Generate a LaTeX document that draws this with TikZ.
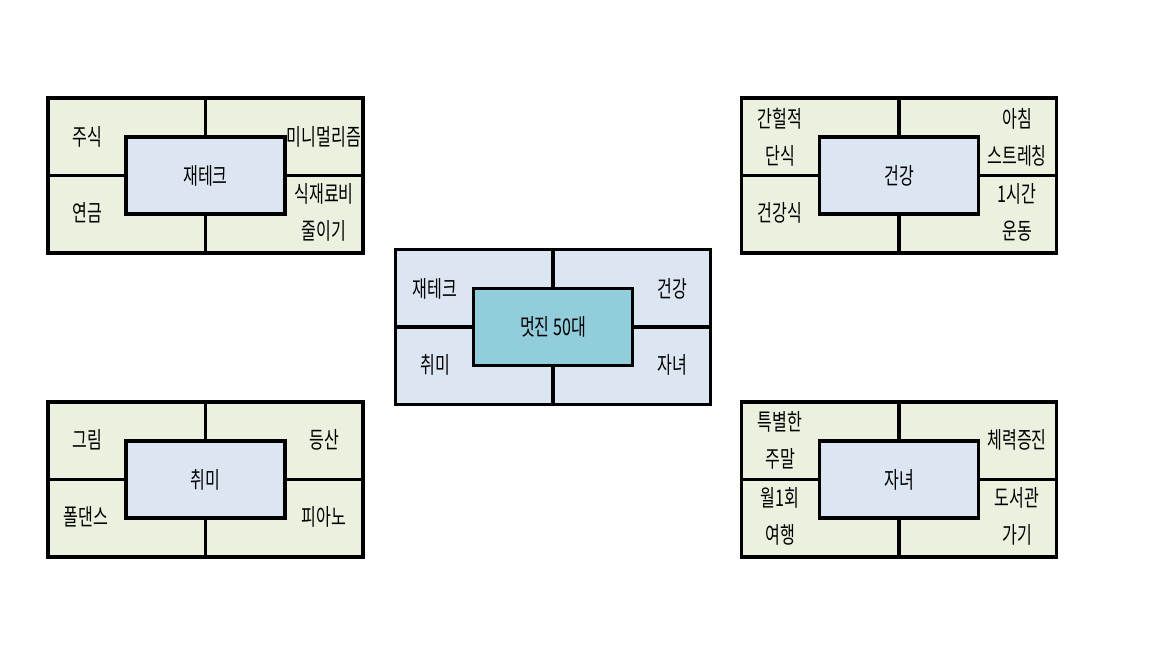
\documentclass[tikz,border=0pt]{standalone}
\usepackage{fontspec}
\newfontfamily\krfont[FakeStretch=0.7]{Noto Sans CJK KR}
\usetikzlibrary{positioning}
\definecolor{CellGreen}{RGB}{235,241,222}
\definecolor{CellBlue}{RGB}{220,230,242}
\definecolor{HubAqua}{RGB}{146,205,220}
\tikzset{
  greencell/.style={draw=black,line width=1.8pt,fill=CellGreen,minimum width=78.75pt,minimum height=38.75pt,inner sep=0pt,outer sep=0pt},
  bluecell/.style={draw=black,line width=1.8pt,fill=CellBlue,minimum width=78.75pt,minimum height=38.75pt,inner sep=0pt,outer sep=0pt},
  hub/.style={draw=black,line width=1.8pt,fill=CellBlue,minimum width=79.5pt,minimum height=38.5pt,inner sep=0pt,outer sep=0pt,font=\krfont\fontsize{11.5}{18.5}\selectfont},
  mainhub/.style={hub,fill=HubAqua},
  lbl/.style={align=center,inner sep=0pt,font=\krfont\fontsize{11.5}{18.5}\selectfont}
}
\begin{document}
\begin{tikzpicture}[x=0.5pt,y=-0.5pt]
\useasboundingbox (0,0) rectangle (1152,648);
\coordinate (jt) at (205.5,175.5);
\coordinate (md) at (553,327);
\coordinate (gk) at (899,175.5);
\coordinate (cm) at (205.5,479.5);
\coordinate (jn) at (899,479.5);
% 재테크
\node[greencell,anchor=south east] (jt-nw) at (jt) {};
\node[greencell,anchor=south west] (jt-ne) at (jt) {};
\node[greencell,anchor=north east] (jt-sw) at (jt) {};
\node[greencell,anchor=north west] (jt-se) at (jt) {};
\node[hub] (jt-hub) at (jt) {재테크};
\node[lbl] (jt-a) at (87,137) {주식};
\node[lbl] (jt-b) at (324,137) {미니멀리즘};
\node[lbl] (jt-c) at (87,213) {연금};
\node[lbl] (jt-d) at (324,212) {식재료비\\줄이기};
% 멋진 50대
\node[bluecell,anchor=south east] (md-nw) at (md) {};
\node[bluecell,anchor=south west] (md-ne) at (md) {};
\node[bluecell,anchor=north east] (md-sw) at (md) {};
\node[bluecell,anchor=north west] (md-se) at (md) {};
\node[mainhub] (md-hub) at (md) {멋진 50대};
\node[lbl] (md-a) at (435,289) {재테크};
\node[lbl] (md-b) at (672,289) {건강};
\node[lbl] (md-c) at (435,365) {취미};
\node[lbl] (md-d) at (672,365) {자녀};
% 건강
\node[greencell,anchor=south east] (gk-nw) at (gk) {};
\node[greencell,anchor=south west] (gk-ne) at (gk) {};
\node[greencell,anchor=north east] (gk-sw) at (gk) {};
\node[greencell,anchor=north west] (gk-se) at (gk) {};
\node[hub] (gk-hub) at (gk) {건강};
\node[lbl] (gk-a) at (780,137) {간헐적\\단식};
\node[lbl] (gk-b) at (1017,137) {아침\\스트레칭};
\node[lbl] (gk-c) at (780,213) {건강식};
\node[lbl] (gk-d) at (1017,212) {1시간\\운동};
% 취미
\node[greencell,anchor=south east] (cm-nw) at (cm) {};
\node[greencell,anchor=south west] (cm-ne) at (cm) {};
\node[greencell,anchor=north east] (cm-sw) at (cm) {};
\node[greencell,anchor=north west] (cm-se) at (cm) {};
\node[hub] (cm-hub) at (cm) {취미};
\node[lbl] (cm-a) at (87,440) {그림};
\node[lbl] (cm-b) at (324,440) {등산};
\node[lbl] (cm-c) at (86,517) {폴댄스};
\node[lbl] (cm-d) at (324,517) {피아노};
% 자녀
\node[greencell,anchor=south east] (jn-nw) at (jn) {};
\node[greencell,anchor=south west] (jn-ne) at (jn) {};
\node[greencell,anchor=north east] (jn-sw) at (jn) {};
\node[greencell,anchor=north west] (jn-se) at (jn) {};
\node[hub] (jn-hub) at (jn) {자녀};
\node[lbl] (jn-a) at (780,440) {특별한\\주말};
\node[lbl] (jn-b) at (1017,440) {체력증진};
\node[lbl] (jn-c) at (780,516) {월1회\\여행};
\node[lbl] (jn-d) at (1017,516) {도서관\\가기};
\end{tikzpicture}
\end{document}
